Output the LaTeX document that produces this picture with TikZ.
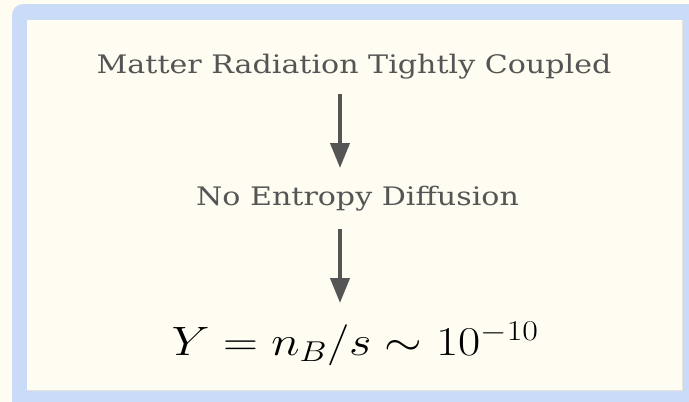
\RequirePackage{fix-cm}
\documentclass[tikz,border=0pt]{standalone}
\usepackage{graphicx}
\usepackage{fontspec}
\setmainfont{DejaVu Serif}[FakeStretch=1.18]
\usetikzlibrary{arrows.meta}
\definecolor{framebl}{HTML}{C9DBF7}
\definecolor{creambg}{HTML}{FFFCF2}
\definecolor{txtgrey}{HTML}{555555}
\definecolor{shadowc}{HTML}{E6E4DA}
\tikzset{
  lbl/.style={text=txtgrey, inner sep=0pt, anchor=base, font=\fontsize{25.5}{30}\selectfont},
  flow/.style={draw=txtgrey, line width=4pt, -{Triangle[width=19pt,length=25pt]}}
}
\begin{document}
\begin{tikzpicture}[x=1pt,y=-1pt]
\useasboundingbox (0,0) rectangle (689,402);
\fill[creambg] (0,0) rectangle (689,402);
\fill[framebl, rounded corners=11pt] (12,4) rectangle (710,420);
\fill[shadowc] (27,20) rectangle (683,391);
\fill[creambg] (27,20) rectangle (682,390);
\node[lbl] (t1) at (354,73) {Matter Radiation Tightly Coupled};
\node[lbl] (t2) at (357.5,205) {No Entropy Diffusion};
\node[text=black, inner sep=0pt, anchor=base, font=\fontsize{41}{48}\selectfont] (t3) at (355,355) {\scalebox{1.18}[1]{$Y = n_B/s \sim 10^{-10}$}};
\coordinate (a1s) at (340,94);
\coordinate (a1e) at (340,168);
\coordinate (a2s) at (340,229);
\coordinate (a2e) at (340,303);
\draw[flow] (a1s) -- (a1e);
\draw[flow] (a2s) -- (a2e);
\end{tikzpicture}
\end{document}
